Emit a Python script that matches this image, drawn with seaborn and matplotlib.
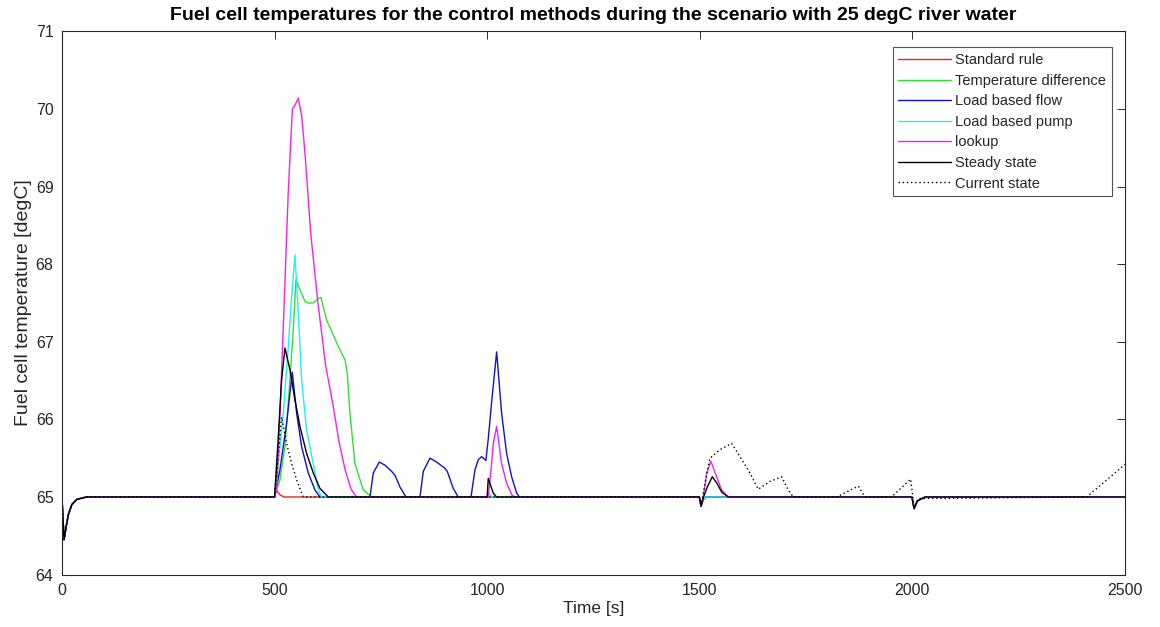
import matplotlib
matplotlib.use("Agg")
import matplotlib.pyplot as plt
import seaborn as sns
import pandas as pd

# ---- data ----
start_t = [0, 5, 10, 15, 23, 35, 58]
start_v = [65.0, 64.45, 64.62, 64.77, 64.90, 64.97, 65.0]

dip1500_t = [1499, 1503, 1508, 1515]
dip1500_v = [65.0, 64.88, 64.97, 65.0]

dip2000_t = [1999, 2004, 2012, 2030, 2500]
dip2000_v = [65.0, 64.85, 64.95, 65.0, 65.0]

red_t = [500, 502, 512, 522]
red_v = [65.0, 65.11, 65.03, 65.0]

green_t = [500, 512.7, 524.5, 536.2, 544, 550.3, 559.7, 571.5, 579.3, 591, 602.8, 609,
           622.5, 649.9, 665.6, 671, 677.3, 689, 708.7, 728.4]
green_v = [65.0, 65.22, 65.65, 66.51, 67.15, 67.80, 67.67, 67.52, 67.50, 67.50, 67.56, 67.57,
           67.28, 66.94, 66.77, 66.59, 66.08, 65.43, 65.09, 65.0]

blue_t = [500, 512.7, 528.4, 541.7, 552, 563.6, 579.3, 595, 606.8,
          724.4, 732.2, 746.3, 759.7, 775.3, 783.2, 794.9, 809,
          842, 849.8, 865.5, 881.2, 900.7, 906.2, 920.3, 932,
          962, 971.3, 979.2, 987, 997, 1002.6, 1010.5, 1022.3, 1034, 1045.8, 1057.6, 1069.4, 1076]
blue_v = [65.0, 65.35, 65.95, 66.61, 66.08, 65.65, 65.31, 65.09, 65.0,
          65.0, 65.31, 65.45, 65.41, 65.33, 65.28, 65.13, 65.0,
          65.0, 65.33, 65.50, 65.45, 65.37, 65.33, 65.11, 65.0,
          65.0, 65.35, 65.48, 65.52, 65.47, 65.75, 66.22, 66.87, 66.08, 65.56, 65.26, 65.05, 65.0]

cyan_t = [500, 508.8, 520.6, 532.3, 540.2, 548, 555.8, 563.6, 575.5, 591, 602.8, 610.6,
          1000, 1005, 1012]
cyan_v = [65.0, 65.43, 66.08, 66.94, 67.58, 68.12, 67.37, 66.51, 65.86, 65.43, 65.09, 65.0,
          65.0, 65.04, 65.0]

magenta_t = [500, 505, 513, 522, 532, 542, 548, 556, 564, 572, 585, 602, 620, 637, 652, 666, 680, 693,
             1002.6, 1010.5, 1014.4, 1022.3, 1034, 1045.8, 1057.6, 1065]
magenta_v = [65.0, 65.1, 66.1, 67.4, 68.9, 70.0, 70.05, 70.14, 69.9, 69.4, 68.4, 67.5, 66.7, 66.2, 65.7, 65.35, 65.1, 65.0,
             65.0, 65.43, 65.69, 65.91, 65.43, 65.18, 65.03, 65.0]
magenta_1500_t = [1499, 1503, 1508.3, 1516.2, 1526.3, 1539.7, 1551.4, 1567]
magenta_1500_v = [65.0, 64.88, 65.0, 65.31, 65.46, 65.26, 65.09, 65.0]

black_t = [500, 508.8, 516.6, 524.5, 536.2, 548, 559.7, 575.5, 591, 606.8, 626.4,
           1000, 1002.6, 1014.4, 1022]
black_v = [65.0, 65.78, 66.51, 66.92, 66.64, 66.25, 65.91, 65.56, 65.31, 65.11, 65.0,
           65.0, 65.24, 65.05, 65.0]
black_1500_t = [1499, 1503, 1509, 1517.8, 1529.5, 1540, 1552, 1567]
black_1500_v = [65.0, 64.88, 65.0, 65.13, 65.26, 65.18, 65.06, 65.0]

dotted_t = [500, 516.6, 528.4, 540.2, 552, 563.6, 567.5,
            1499, 1503, 1524, 1547.5, 1575, 1594.5, 1618, 1637.6, 1665, 1692.6, 1708.2, 1720,
            1822, 1872.8, 1888.5, 1951, 1996, 2000, 2004, 2014, 2410, 2500]
dotted_v = [65.0, 66.03, 65.69, 65.43, 65.22, 65.05, 65.0,
            65.0, 64.90, 65.50, 65.61, 65.69, 65.52, 65.31, 65.10, 65.20, 65.26, 65.09, 65.0,
            65.0, 65.14, 65.0, 65.0, 65.23, 65.05, 64.87, 64.98, 65.0, 65.42]

labels = ["Standard rule", "Temperature difference", "Load based flow",
          "Load based pump", "lookup", "Steady state", "Current state"]

series = {
    "Standard rule": (start_t + red_t + dip1500_t + dip2000_t, start_v + red_v + dip1500_v + dip2000_v),
    "Temperature difference": (start_t + green_t + dip1500_t + dip2000_t, start_v + green_v + dip1500_v + dip2000_v),
    "Load based flow": (start_t + blue_t + dip1500_t + dip2000_t, start_v + blue_v + dip1500_v + dip2000_v),
    "Load based pump": (start_t + cyan_t + dip1500_t + dip2000_t, start_v + cyan_v + dip1500_v + dip2000_v),
    "lookup": (start_t + magenta_t + magenta_1500_t + dip2000_t, start_v + magenta_v + magenta_1500_v + dip2000_v),
    "Steady state": (start_t + black_t + black_1500_t + dip2000_t, start_v + black_v + black_1500_v + dip2000_v),
    "Current state": (start_t + dotted_t, start_v + dotted_v),
}

colors = {"Standard rule": "#f02020", "Temperature difference": "#30e030",
          "Load based flow": "#1010d0", "Load based pump": "#20f0f0",
          "lookup": "#f020f0", "Steady state": "#000000", "Current state": "#000000"}

# ---- plot ----
sns.set_theme(style="white")
plt.rcParams['font.family'] = ['Liberation Sans', 'DejaVu Sans']

fig = plt.figure(figsize=(11.6, 6.27), dpi=100)
ax = fig.add_axes([0.0534, 0.0836, 0.9164, 0.8664])

for name in labels:
    t, v = series[name]
    df = pd.DataFrame({"t": t, "v": v})
    ls = (0, (1, 2)) if name == "Current state" else "-"
    sns.lineplot(data=df, x="t", y="v", ax=ax, color=colors[name], lw=1.0,
                 estimator=None, sort=False, label=name, linestyle=ls)

ax.set_xlim(0, 2500)
ax.set_ylim(64, 71)
ax.set_xticks([0, 500, 1000, 1500, 2000, 2500])
ax.set_yticks([64, 65, 66, 67, 68, 69, 70, 71])
ax.tick_params(direction="in", top=True, right=True, length=6, width=0.7,
               labelsize=11.5, colors="#262626", pad=6)
for s in ax.spines.values():
    s.set_color("#262626")
    s.set_linewidth(0.8)

ax.set_xlabel("Time [s]", fontsize=12.5, color="#262626", labelpad=2)
ax.set_ylabel("Fuel cell temperature [degC]", fontsize=14, color="#262626", labelpad=3)
ax.set_title("Fuel cell temperatures for the control methods during the scenario with 25 degC river water",
             fontsize=14, fontweight="bold", color="black", pad=8)

leg = ax.legend(loc="upper right", bbox_to_anchor=(0.9878, 0.9706), borderaxespad=0,
                fontsize=10.5, frameon=True, fancybox=False, handlelength=3.6,
                handletextpad=0.3, labelspacing=0.45, borderpad=0.4)
leg.get_frame().set_edgecolor("#262626")
leg.get_frame().set_linewidth(0.8)
for txt in leg.get_texts():
    txt.set_color("#262626")

fig.savefig("out.png", dpi=100)
